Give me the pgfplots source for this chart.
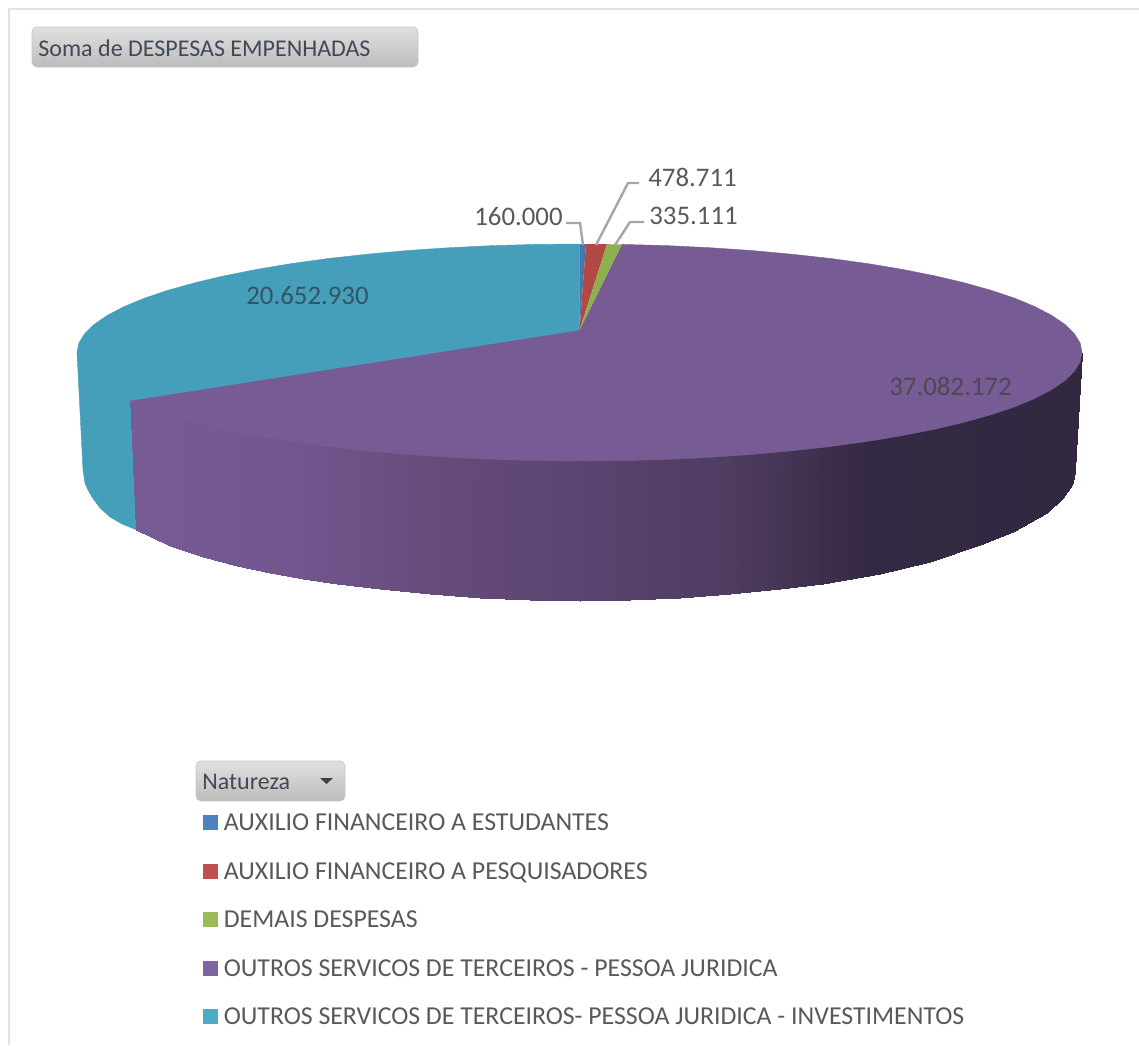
\documentclass[border=0pt]{standalone}
\usepackage{pgfplots}
\usepackage{pgfplotstable}
\usepackage{fontspec}
\setmainfont{Carlito}
\pgfplotsset{compat=1.18}
\definecolor{ptop}{RGB}{118,91,149}
\definecolor{tealc}{RGB}{69,158,186}
\definecolor{bluec}{RGB}{68,120,176}
\definecolor{redc}{RGB}{177,73,69}
\definecolor{greenc}{RGB}{141,177,80}
\definecolor{lgblue}{RGB}{79,129,189}
\definecolor{lgred}{RGB}{192,80,77}
\definecolor{lggreen}{RGB}{155,187,89}
\definecolor{lgpurple}{RGB}{128,100,162}
\definecolor{lgteal}{RGB}{75,172,198}
\definecolor{txt}{RGB}{89,89,89}
\definecolor{btn}{RGB}{64,74,86}
\definecolor{lead}{RGB}{166,166,166}
\definecolor{frame}{RGB}{226,226,226}
\newcommand{\legimg}[1]{\addlegendimage{legend image code/.code={\fill[#1] (0pt,-2.5pt) rectangle (7pt,4.5pt);}}}
\pgfplotstableread{
x y c
130 396 130
170 410.4 170
203 419.4 203
237 426.9 237
270 433 270
303 438.1 303
337 442.5 337
380 447.1 380
430 451.1 430
480 453.9 480
530 455.5 530
580 456 580
630 455.5 630
680 453.8 680
730 451 730
780 447 780
823 442.4 823
880 434.5 880
930 425.2 930
980 413 980
1013 402.4 1013
1047 387.3 1047
1063 377 1063
1072 369 1072
1078 361 1078
1082 352.5 1082
136.5 530 130
170 546 170
203 557 203
237 566 237
270 573 270
303 579 303
337 584 337
380 589 380
430 594 430
480 598 480
530 600.3 530
580 601 580
630 600.3 630
680 598 680
730 594 730
780 589 780
823 584 823
880 574 880
930 562 930
980 545 980
1013 532 1013
1047 513 1047
1063 498 1063
1072 485 1072
1074 478 1078
1075 470 1082
}\sidetable
\begin{document}
\begin{tikzpicture}
\begin{axis}[
  scale only axis, width=569.5pt, height=522.5pt,
  xmin=0, xmax=1139, ymin=0, ymax=1045, y dir=reverse,
  hide axis, axis on top=false,
  colormap={side}{rgb255(0pt)=(118,91,149); rgb255(170pt)=(113,86,142); rgb255(300pt)=(101,76,124); rgb255(450pt)=(92,68,112); rgb255(600pt)=(78,60,97); rgb255(740pt)=(52,41,66); rgb255(952pt)=(50,40,64)},
  point meta min=130, point meta max=1082,
  legend cell align=left,
  legend style={at={(axis cs:203,812.5)}, anchor=north west, draw=none, fill=none,
    font=\fontsize{12.9}{14}\selectfont, text=txt, inner sep=0pt, outer sep=0pt,
    row sep=12.25pt, nodes={inner sep=0pt, outer sep=0pt, text height=9pt, text depth=3pt},
    /tikz/every odd column/.append style={column sep=3pt}},
]
% page
\addplot[fill=white, draw=none, forget plot] coordinates {(0,0)(1139,0)(1139,1045)(0,1045)} -- cycle;
% teal side
\addplot[fill=tealc, draw=tealc, line width=.2pt, forget plot] coordinates {
(77,352.5)(78.9,362)(84.6,371.3)(94.1,380.6)(107.3,389.6)(124.1,398.4)(131,402)
(137,530)(122,524)(110,517)(100,508)(92,497)(88,490)(85,483)(83,470)} -- cycle;
% purple side
\addplot[surf, shader=interp, mesh/rows=2, point meta=\thisrow{c}, forget plot] table[x=x,y=y] {\sidetable};
% teal top
\addplot[fill=tealc, draw=tealc, line width=.2pt, forget plot] coordinates {
(579.5,330.5)(579.5,244)(535.7,244.4)(492.2,245.6)(449.4,247.7)(407.6,250.5)(367.1,254.2)(328.2,258.5)(291.3,263.6)(256.5,269.4)(224.2,275.8)(194.6,282.8)(167.9,290.3)(144.3,298.2)(124.1,306.6)(107.3,315.4)(94.1,324.4)(84.6,333.7)(78.9,343)(77,352.5)(78.9,362)(84.6,371.3)(94.1,380.6)(107.3,389.6)(124.1,398.4)(130,401.1)} -- cycle;
% purple top
\addplot[fill=ptop, draw=ptop, line width=.2pt, forget plot] coordinates {
(579.5,330.5)(622,244.4)(666.8,245.6)(709.6,247.7)(751.4,250.5)(791.9,254.2)(830.8,258.5)(867.7,263.6)(902.5,269.4)(934.8,275.8)(964.4,282.8)(991.1,290.3)(1014.7,298.2)(1034.9,306.6)(1051.7,315.4)(1064.9,324.4)(1074.4,333.7)(1080.1,343)(1082,352.5)(1080.1,362)(1074.4,371.3)(1064.9,380.6)(1051.7,389.6)(1034.9,398.4)(1014.7,406.8)(991.1,414.7)(964.4,422.2)(934.8,429.2)(902.5,435.6)(867.7,441.4)(830.8,446.5)(791.9,450.8)(751.4,454.5)(709.6,457.3)(666.8,459.4)(623.3,460.6)(579.5,461)(535.7,460.6)(492.2,459.4)(449.4,457.3)(407.6,454.5)(367.1,450.8)(328.2,446.5)(291.3,441.4)(256.5,435.6)(224.2,429.2)(194.6,422.2)(167.9,414.7)(144.3,406.8)(130,401.1)} -- cycle;
% small slices
\addplot[fill=bluec, draw=none, forget plot] coordinates {(579.5,330.5)(579.5,244)(586,244)} -- cycle;
\addplot[fill=redc, draw=none, forget plot] coordinates {(579.5,330.5)(586,244)(596,244)(607,244.2)} -- cycle;
\addplot[fill=greenc, draw=none, forget plot] coordinates {(579.5,330.5)(607,244.2)(622,244.4)} -- cycle;
% leader lines
\addplot[lead, line width=1.2pt, forget plot] coordinates {(566,223)(580,223)(583,245)};
\addplot[lead, line width=1.2pt, forget plot] coordinates {(639,183)(628,183)(596,245)};
\addplot[lead, line width=1.2pt, forget plot] coordinates {(644,222)(630,222)(615,245)};
% frame
\addplot[frame, line width=1.3pt, forget plot] coordinates {(1139,9)(9,9)(9,1045)};
% legend
\legimg{lgblue}\addlegendentry{AUXILIO FINANCEIRO A ESTUDANTES}
\legimg{lgred}\addlegendentry{AUXILIO FINANCEIRO A PESQUISADORES}
\legimg{lggreen}\addlegendentry{DEMAIS DESPESAS}
\legimg{lgpurple}\addlegendentry{OUTROS SERVICOS DE TERCEIROS - PESSOA JURIDICA}
\legimg{lgteal}\addlegendentry{OUTROS SERVICOS DE TERCEIROS- PESSOA JURIDICA - INVESTIMENTOS}
% data labels
\node[anchor=east, text=txt, inner sep=0pt, font=\fontsize{13.4}{15}\selectfont] at (axis cs:563,217) {160.000};
\node[anchor=west, text=txt, inner sep=0pt, font=\fontsize{13.4}{15}\selectfont] at (axis cs:648,177) {478.711};
\node[anchor=west, text=txt, inner sep=0pt, font=\fontsize{13.4}{15}\selectfont] at (axis cs:649,216) {335.111};
\node[anchor=west, text={rgb,255:red,54;green,84;blue,98}, inner sep=0pt, font=\fontsize{13.4}{15}\selectfont] at (axis cs:246,296) {20.652.930};
\node[anchor=west, text={rgb,255:red,78;green,72;blue,84}, inner sep=0pt, font=\fontsize{13.4}{15}\selectfont] at (axis cs:889,386) {37.082.172};
% buttons
\draw[draw={rgb,255:red,200;green,200;blue,200}, rounded corners=2.5pt, top color={rgb,255:red,224;green,224;blue,224}, bottom color={rgb,255:red,188;green,188;blue,188}, line width=.4pt] (axis cs:32,27) rectangle (axis cs:418,67);
\node[anchor=west, text=btn, inner sep=0pt, font=\fontsize{12}{14}\selectfont] at (axis cs:38,48) {Soma de DESPESAS EMPENHADAS};
\draw[draw={rgb,255:red,200;green,200;blue,200}, rounded corners=2.5pt, top color={rgb,255:red,224;green,224;blue,224}, bottom color={rgb,255:red,188;green,188;blue,188}, line width=.4pt] (axis cs:196,761) rectangle (axis cs:345,801);
\node[anchor=west, text=btn, inner sep=0pt, font=\fontsize{12}{14}\selectfont] at (axis cs:202,782) {Natureza};
\fill[black!75] (axis cs:320,778) -- (axis cs:333,778) -- (axis cs:326.5,784) -- cycle;
\end{axis}
\end{tikzpicture}
\end{document}
